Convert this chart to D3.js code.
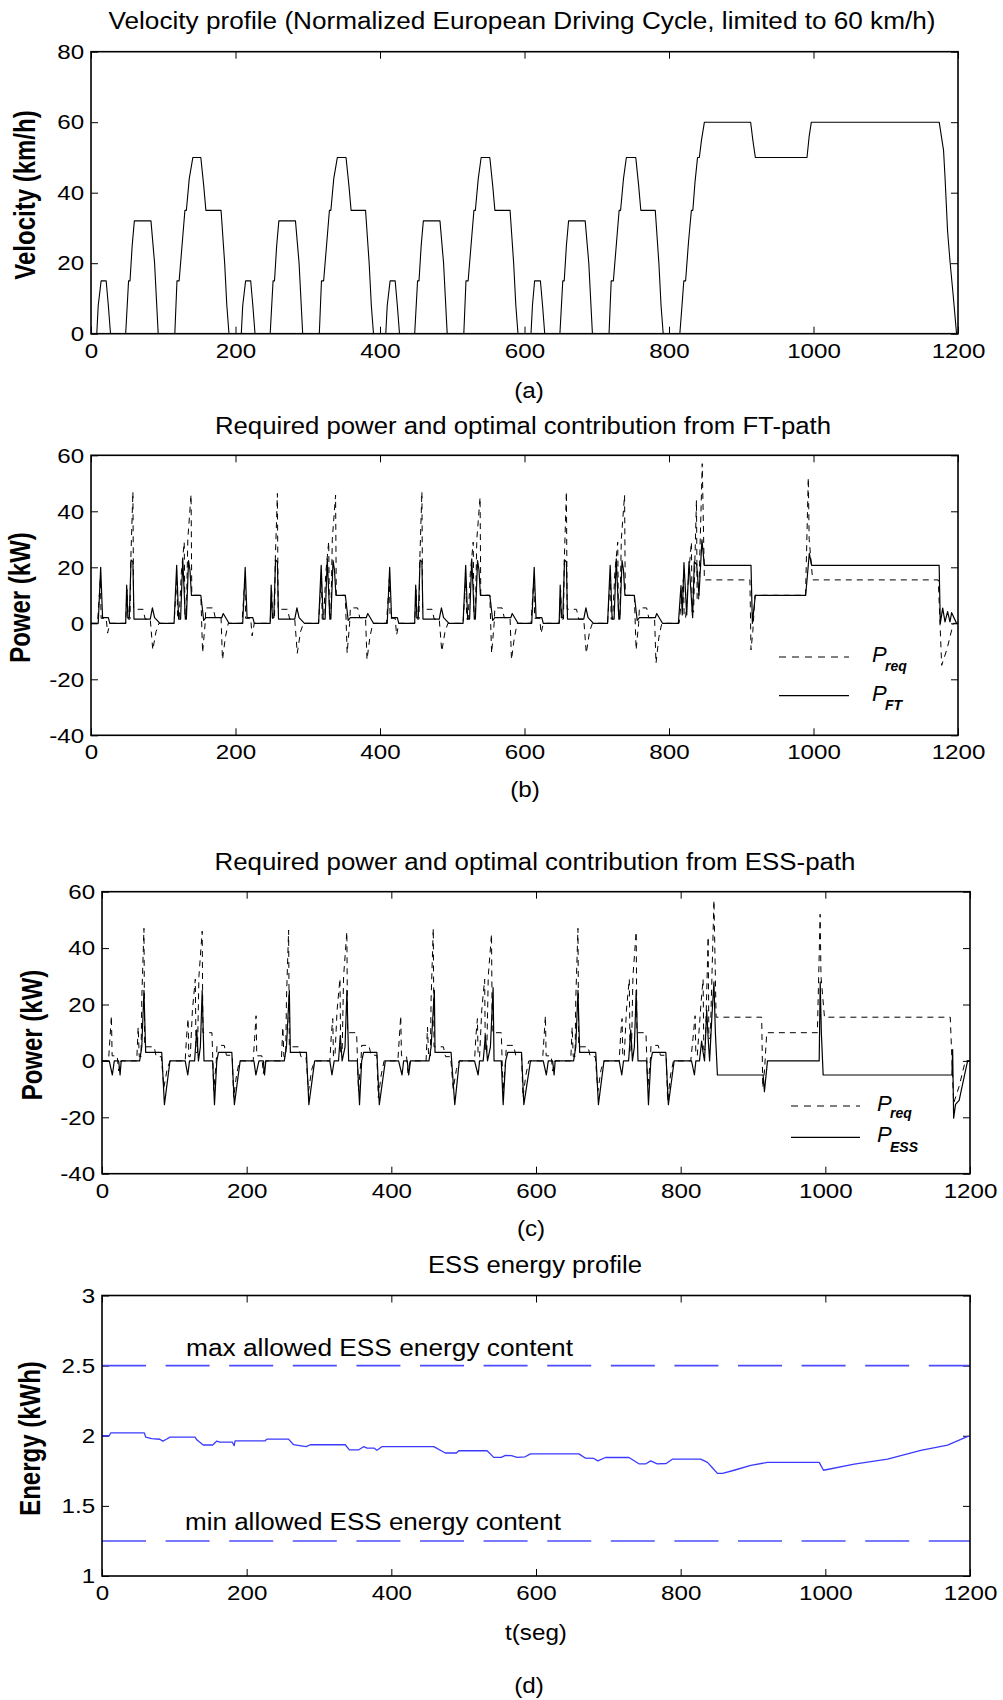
<!DOCTYPE html>
<html>
<head>
<meta charset="utf-8">
<script src="https://cdnjs.cloudflare.com/ajax/libs/d3/7.8.5/d3.min.js"></script>
<style>
  body { margin: 0; background: #fff; }
  text { font-family: "Liberation Sans", Arial, sans-serif; fill: #000; }
</style>
</head>
<body>
<div id="chart"></div>
<script>
// ---- data ----
const timeTicks = [0, 200, 400, 600, 800, 1000, 1200];
const velocityTicks = [0, 20, 40, 60, 80];
const powerTicks = [-40, -20, 0, 20, 40, 60];
const energyTicks = [1, 1.5, 2, 2.5, 3];
const energyMax = 2.5;
const energyMin = 1.25;

// velocity [t (s), v (km/h)]
const velocity = [
  [0,0],[8,0],[10,8],[14,15],[21,15],[24,8],[27,0],[48,0],[52,15],[54,15],[57,25],[60,32],[83,32],[88,20],[93,0],
  [116,0],[119,15],[122,15],[126,25],[130,35],[132,35],[136,44],[141,50],[152,50],[156,42],[159,35],[180,35],[185,20],[188,8],[191,0],
  [208,0],[210,8],[214,15],[221,15],[224,8],[227,0],[248,0],[252,15],[254,15],[257,25],[260,32],[283,32],[288,20],[293,0],
  [316,0],[319,15],[322,15],[326,25],[330,35],[332,35],[336,44],[341,50],[353,50],[357,42],[360,35],[380,35],[385,20],[388,8],[391,0],
  [408,0],[410,8],[414,15],[421,15],[424,8],[427,0],[448,0],[452,15],[454,15],[457,25],[460,32],[483,32],[488,20],[493,0],
  [516,0],[519,15],[522,15],[526,25],[530,35],[532,35],[536,44],[540,50],[552,50],[556,42],[559,35],[580,35],[585,20],[588,8],[591,0],
  [609,0],[611,8],[614,15],[622,15],[625,8],[628,0],[649,0],[653,15],[655,15],[658,25],[661,32],[684,32],[689,20],[694,0],
  [717,0],[720,15],[723,15],[727,25],[731,35],[733,35],[737,44],[741,50],[754,50],[758,42],[761,35],[781,35],[786,20],[789,8],[792,0],
  [815,0],[818,8],[820.5,15],[823,15],[827,26],[831,35],[833,35],[836,43],[839.5,50],[842,50],[845,55],[849,60],
  [913,60],[916,55],[919.5,50],[991,50],[994,56],[997,60],[1174,60],[1180,52],[1182,44.5],[1185.6,29],[1189,20.4],[1193.5,10.5],[1198,0],[1200,0]
];

// required power P_req [t, kW]
const pReq = [
  [0,0],[9,0],[11,8],[13,16],[14,1.8],[21,1.8],[23,-3.5],[26,0],
  [48,0],[50,12],[51.5,1.5],[54,1.5],[55,22],[58,47],[59,5],[72,5],[75,1.5],[82,1.5],[85.5,-9.5],[90,-3],[94,0],
  [115,0],[117,9],[119,15],[120,1.5],[122,1.5],[125,18],[129,29],[130,3],[132,3],[134,30],[138.5,46],[139.5,10],[152,10],[154.5,-10.5],[158,0],[159,5.5],[169,5.5],[172,2],[180,2],[182,-13],[186,-5],[190,0],
  [209,0],[211,8],[213,16],[214,1.8],[221,1.8],[223,-4.5],[226,0],
  [248,0],[250,12],[251.5,1.5],[254,1.5],[255,22],[258,46.4],[259,5],[272,5],[275,1.5],[282,1.5],[285.5,-10.7],[290,-3],[294,0],
  [315,0],[317,9],[319,15],[320,1.5],[322,1.5],[325,18],[329,29.2],[330,3],[332,3],[334,30],[338.5,45.8],[339.5,10],[352,10],[354.5,-10.7],[358,0],[359,5.5],[369,5.5],[372,2],[380,2],[382,-13],[386,-5],[390,0],
  [409,0],[411,8],[413,16],[414,1.8],[421,1.8],[423,-4.2],[426,0],
  [448,0],[450,12],[451.5,1.5],[454,1.5],[455,22],[458,47],[459,5],[472,5],[475,1.5],[482,1.5],[485.5,-10],[490,-3],[494,0],
  [515,0],[517,9],[519,15],[520,1.5],[522,1.5],[525,18],[529,29],[530,3],[532,3],[534,30],[538.5,45],[539.5,10],[552,10],[554.5,-10.7],[558,0],[559,5.5],[569,5.5],[572,2],[580,2],[582,-13],[586,-5],[590,0],
  [609,0],[611,8],[613,16],[614,1.8],[621,1.8],[623,-3.6],[626,0],
  [648,0],[650,12],[651.5,1.5],[654,1.5],[655,22],[658,47],[659,5],[672,5],[675,1.5],[682,1.5],[685.5,-10.7],[690,-3],[694,0],
  [715,0],[717,9],[719,15],[720,1.5],[722,1.5],[725,18],[729,29],[730,3],[732,3],[734,30],[738.5,45.8],[739.5,10],[752,10],[754.5,-9.5],[758,0],[759,5.5],[769,5.5],[772,2],[780,2],[782,-14.3],[786,-5],[790,0],
  [814,0],[817,8],[820,16],[821,2],[823,2],[828,20],[831,29],[832,4],[834,4],[838,44],[839,8],[841,8],[846,57],[849,15.5],
  [912,15.5],[913.5,-9.5],[916,-3],[919,10],[989,10],[992.8,52],[994,30],[998.8,15.5],[1172.7,15.5],[1177.4,-15],[1185,-9],[1193.5,0],[1200,0]
];

// fuel-cell path P_FT [t, kW]
const pFT = [
  [0,0],[10,0],[13.4,20],[16,2],[24,2],[26,0],
  [48,0],[49.4,13.6],[51,2],[53,2],[55.4,22.6],[58,22],[59.5,1.5],[82,1.5],[85,5.5],[88,2],[95.5,0],
  [115,0],[118.6,20.7],[121.3,1.5],[124,1.5],[127,23],[130.6,1.5],[132,1.5],[135,22.4],[137,19],[139,10],[152,10],[156,1],[159,2],[181,2],[183,3.5],[191,0],
  [210,0],[213.4,20],[216,2],[224,2],[226,0],
  [248,0],[249.4,13.6],[251,2],[253,2],[255.4,22.6],[258,22],[259.5,1.5],[282,1.5],[285,5.5],[288,2],[295.5,0],
  [315,0],[318.6,20.7],[321.3,1.5],[324,1.5],[327,23],[330.6,1.5],[332,1.5],[335,22.4],[337,19],[339,10],[352,10],[356,1],[359,2],[381,2],[383,3.5],[391,0],
  [410,0],[413.4,20],[416,2],[424,2],[426,0],
  [448,0],[449.4,13.6],[451,2],[453,2],[455.4,22.6],[458,22],[459.5,1.5],[482,1.5],[485,5.5],[488,2],[495.5,0],
  [515,0],[518.6,20.7],[521.3,1.5],[524,1.5],[527,23],[530.6,1.5],[532,1.5],[535,22.4],[537,19],[539,10],[552,10],[556,1],[559,2],[581,2],[583,3.5],[591,0],
  [610,0],[613.4,20],[616,2],[624,2],[626,0],
  [648,0],[649.4,13.6],[651,2],[653,2],[655.4,22.6],[658,22],[659.5,1.5],[682,1.5],[685,5.5],[688,2],[695.5,0],
  [715,0],[718.6,20.7],[721.3,1.5],[724,1.5],[727,23],[730.6,1.5],[732,1.5],[735,22.4],[737,19],[739,10],[752,10],[756,1],[759,2],[781,2],[783,3.5],[791,0],
  [813,0],[816.6,13.5],[818.4,3],[820.7,21.7],[824.5,3],[827.7,22],[832.7,2],[835,22],[838.3,21],[841.5,10],[845.6,29.8],[848.9,20.7],
  [913.5,20.7],[915.4,0],[919.5,10],[989.2,10],[994.2,25],[997.4,20.7],[1173.9,20.7],[1175.5,0],[1178.8,5.4],[1182,0.5],[1185.6,4.2],[1188.9,0.5],[1191.2,3.8],[1198,0],[1200,0]
];

// storage path P_ESS [t, kW]
const pESS = [
  [0,0],[10,0],[14.3,-5],[17,0],[23,0],[25,-5],[26.5,0],
  [48,0],[52,0],[55,5],[58,25],[60.4,3],[82.6,3],[86.3,-15.5],[94,0],
  [115,0],[118.6,-5],[121,0],[128,0],[131,11],[133.3,0],[136,5],[138.5,25],[141,0],[153,0],[155.5,-15.5],[158.7,0],[161,3],[179.5,3],[183,-15.5],[191,0],
  [210,0],[212.7,-5],[217,0],[223,0],[224.7,-5],[226.5,0],
  [248,0],[252,0],[255,5],[259,25],[260.4,3],[282.6,3],[286,-15.5],[294,0],
  [315,0],[317.9,-5],[321,0],[327,0],[329.4,9],[332,0],[336,5],[338.6,25],[341,0],[353,0],[356,-15.5],[359,0],[361.7,3],[380,3],[383.4,-15.5],[391.7,0],
  [410,0],[414.8,-5],[417,0],[422,0],[424,-5],[426.5,0],
  [448,0],[452,0],[455,5],[459.5,25],[460.4,3],[482.6,3],[487.7,-15.5],[494,0],
  [515,0],[520,-5],[522,0],[527,0],[530,9],[533,0],[537,5],[540.7,26],[542,0],[552,0],[554.6,-15.5],[558,0],[561,3],[580,3],[583.2,-15.5],[592.4,0],
  [610,0],[614.3,-5],[617,0],[623,0],[625,-5],[626.5,0],
  [648,0],[652,0],[655,5],[658,25],[660.4,3],[682.6,3],[686.3,-15.5],[694,0],
  [715,0],[718.6,-5],[721,0],[728,0],[731,11],[733.3,0],[736,5],[738.5,25],[741,0],[753,0],[755.5,-15.5],[758.7,0],[761,3],[779.5,3],[783,-15.5],[791,0],
  [815,0],[819,-5],[821,0],[826,0],[829,7],[831,3],[833,0],[836,18],[838,8],[840,0],[843,15],[846,28],[848,10],[850.8,-5],
  [914,-5],[915.8,-10.9],[920,0],[991.5,0],[992.9,28],[994.5,10],[997,-5],[1175,-5],[1176,4],[1177.4,-20.3],[1180,-15.4],[1185,-14],[1190,-8],[1196.7,0],[1200,0]
];

// ESS energy content [t, kWh]
const energy = [
  [0,2.0],[10,2.0],[12,2.02],[58.6,2.02],[60.4,1.99],[68.7,1.979],[80,1.975],[84,1.962],[89,1.975],[94,1.99],[128.7,1.99],
  [131,1.971],[140,1.934],[153,1.934],[158.7,1.962],[163,1.955],[180,1.955],[182.7,1.929],[184,1.964],[225.6,1.964],
  [228,1.976],[257.9,1.976],[264.8,1.936],[273,1.93],[282.4,1.922],[288,1.936],[336.3,1.936],[342,1.899],[355,1.9],
  [361.7,1.922],[366.3,1.912],[376,1.912],[380,1.896],[387,1.922],[458.6,1.922],[474.7,1.877],[490,1.877],[493.2,1.893],
  [532.4,1.893],[541.6,1.846],[552,1.846],[557.8,1.86],[566,1.858],[573.9,1.846],[585,1.85],[592.4,1.871],[659.3,1.871],
  [668.5,1.84],[680,1.838],[685.5,1.821],[696,1.845],[728.5,1.845],[742.3,1.80],[752,1.80],[758.5,1.821],[767.7,1.80],
  [780,1.802],[788.4,1.833],[827.7,1.833],[837,1.81],[843.8,1.772],[850.8,1.732],[858,1.732],[873.8,1.754],[897,1.789],
  [920,1.81],[991.5,1.81],[997.5,1.754],[1040,1.797],[1086,1.833],[1132,1.895],[1169,1.933],[1197,1.995],[1200,1.995]
];

// ---- drawing ----
const W = 1003, H = 1700;
const svg = d3.select("#chart").append("svg").attr("width", W).attr("height", H);
const plain = d => String(d);

const makePanel = (id, box, yDomain, yTicks) => {
  const x = d3.scaleLinear().domain([0, 1200]).range([box.left, box.right]);
  const y = d3.scaleLinear().domain(yDomain).range([box.bottom, box.top]);
  const g = svg.append("g").attr("class", "panel-" + id);

  g.append("clipPath").attr("id", "clip-" + id)
    .append("rect")
    .attr("x", box.left).attr("y", box.top)
    .attr("width", box.right - box.left).attr("height", box.bottom - box.top);

  const styleAxis = sel => {
    sel.select(".domain").remove();
    sel.selectAll(".tick line").attr("stroke", "#000").attr("stroke-width", 1);
    sel.selectAll(".tick text")
      .style("font-family", '"Liberation Sans", Arial, sans-serif')
      .style("font-size", "21px")
      .attr("fill", "#000")
      .attr("transform", "scale(1.15,1)");
  };

  g.append("g").attr("transform", `translate(0,${box.bottom})`)
    .call(d3.axisBottom(x).tickValues(timeTicks).tickSizeInner(-7).tickSizeOuter(0).tickPadding(9).tickFormat(plain))
    .call(styleAxis);
  g.append("g").attr("transform", `translate(0,${box.top})`)
    .call(d3.axisTop(x).tickValues(timeTicks).tickSizeInner(-7).tickSizeOuter(0).tickFormat(""))
    .call(styleAxis);
  g.append("g").attr("transform", `translate(${box.left},0)`)
    .call(d3.axisLeft(y).tickValues(yTicks).tickSizeInner(-7).tickSizeOuter(0).tickPadding(6).tickFormat(plain))
    .call(styleAxis);
  g.append("g").attr("transform", `translate(${box.right},0)`)
    .call(d3.axisRight(y).tickValues(yTicks).tickSizeInner(-7).tickSizeOuter(0).tickFormat(""))
    .call(styleAxis);

  const plot = g.append("g").attr("clip-path", `url(#clip-${id})`);

  g.append("rect")
    .attr("x", box.left).attr("y", box.top)
    .attr("width", box.right - box.left).attr("height", box.bottom - box.top)
    .attr("fill", "none").attr("stroke", "#000").attr("stroke-width", 1.6);

  return { x, y, g, plot, box };
};

const drawLine = (panel, data, stroke, width, dash) => {
  const line = d3.line().x(d => panel.x(d[0])).y(d => panel.y(d[1]));
  panel.plot.append("path")
    .datum(data)
    .attr("d", line)
    .attr("fill", "none")
    .attr("stroke", stroke)
    .attr("stroke-width", width)
    .attr("stroke-dasharray", dash || null)
    .attr("stroke-linejoin", "round");
};

const title = (txt, cx, baseline, len) => {
  svg.append("text")
    .attr("x", cx).attr("y", baseline)
    .attr("text-anchor", "middle")
    .attr("textLength", len).attr("lengthAdjust", "spacingAndGlyphs")
    .style("font-size", "23px")
    .text(txt);
};

const yLabel = (txt, bx, cy) => {
  svg.append("text")
    .attr("transform", `translate(${bx},${cy}) scale(1.2,1) rotate(-90)`)
    .attr("text-anchor", "middle")
    .style("font-weight", "bold")
    .style("font-size", "24px")
    .text(txt);
};

const caption = (txt, cx, baseline) => {
  svg.append("text")
    .attr("x", cx).attr("y", baseline)
    .attr("text-anchor", "middle")
    .attr("transform", `translate(${cx},0) scale(1.1,1) translate(${-cx},0)`)
    .style("font-size", "22px")
    .text(txt);
};

const legend = (p, x1, x2, yDash, ySolid, sub1, sub2, subY1, subY2, textX) => {
  p.g.append("line").attr("x1", x1).attr("x2", x2).attr("y1", yDash).attr("y2", yDash)
    .attr("stroke", "#000").attr("stroke-width", 1).attr("stroke-dasharray", "7,6");
  p.g.append("line").attr("x1", x1).attr("x2", x2).attr("y1", ySolid).attr("y2", ySolid)
    .attr("stroke", "#000").attr("stroke-width", 1.2);
  [[yDash + 5, sub1, subY1], [ySolid + 5, sub2, subY2]].forEach(([by, sub, sy]) => {
    p.g.append("text").attr("x", textX).attr("y", by)
      .style("font-size", "22px").style("font-style", "italic").text("P");
    p.g.append("text").attr("x", textX + 13).attr("y", sy)
      .style("font-size", "14px").style("font-style", "italic").style("font-weight", "bold").text(sub);
  });
};

// (a) velocity
const pa = makePanel("a", { left: 91, right: 958, top: 51.7, bottom: 333.7 }, [0, 80], velocityTicks);
drawLine(pa, velocity, "#000", 1.1);
title("Velocity profile (Normalized European Driving Cycle, limited to 60 km/h)", 522, 29, 827);
yLabel("Velocity (km/h)", 35, 195);
caption("(a)", 529, 398);

// (b) FT path
const pb = makePanel("b", { left: 91, right: 958, top: 455.3, bottom: 735.3 }, [-40, 60], powerTicks);
drawLine(pb, pReq, "#000", 1, "6,5");
drawLine(pb, pFT, "#000", 1.2);
title("Required power and optimal contribution from FT-path", 523, 434, 616);
yLabel("Power (kW)", 30, 597.5);
caption("(b)", 525, 797);
legend(pb, 779, 849, 657, 695.7, "req", "FT", 671, 710, 872);

// (c) ESS path
const pc = makePanel("c", { left: 102, right: 970, top: 891.7, bottom: 1173.7 }, [-40, 60], powerTicks);
drawLine(pc, pReq, "#000", 1, "6,5");
drawLine(pc, pESS, "#000", 1.2);
title("Required power and optimal contribution from ESS-path", 535, 870, 641);
yLabel("Power (kW)", 42, 1035);
caption("(c)", 531, 1236);
legend(pc, 791, 860, 1106, 1137.3, "req", "ESS", 1118, 1152, 877);

// (d) energy
const pd = makePanel("d", { left: 102, right: 970, top: 1295.5, bottom: 1576 }, [1, 3], energyTicks);
[energyMax, energyMin].forEach(v => {
  pd.plot.append("line")
    .attr("x1", pd.x(0)).attr("x2", pd.x(1200))
    .attr("y1", pd.y(v)).attr("y2", pd.y(v))
    .attr("stroke", "#4d4dff").attr("stroke-width", 1.6)
    .attr("stroke-dasharray", "44,19.6");
});
drawLine(pd, energy, "#3a3aff", 1.3);
title("ESS energy profile", 535, 1273, 214);
yLabel("Energy (kWh)", 40, 1438.5);
caption("t(seg)", 536, 1640);
caption("(d)", 529, 1693);
svg.append("text").attr("x", 186).attr("y", 1356)
  .attr("textLength", 387).attr("lengthAdjust", "spacingAndGlyphs")
  .style("font-size", "23px").text("max allowed ESS energy content");
svg.append("text").attr("x", 185).attr("y", 1530)
  .attr("textLength", 376).attr("lengthAdjust", "spacingAndGlyphs")
  .style("font-size", "23px").text("min allowed ESS energy content");
</script>
</body>
</html>
